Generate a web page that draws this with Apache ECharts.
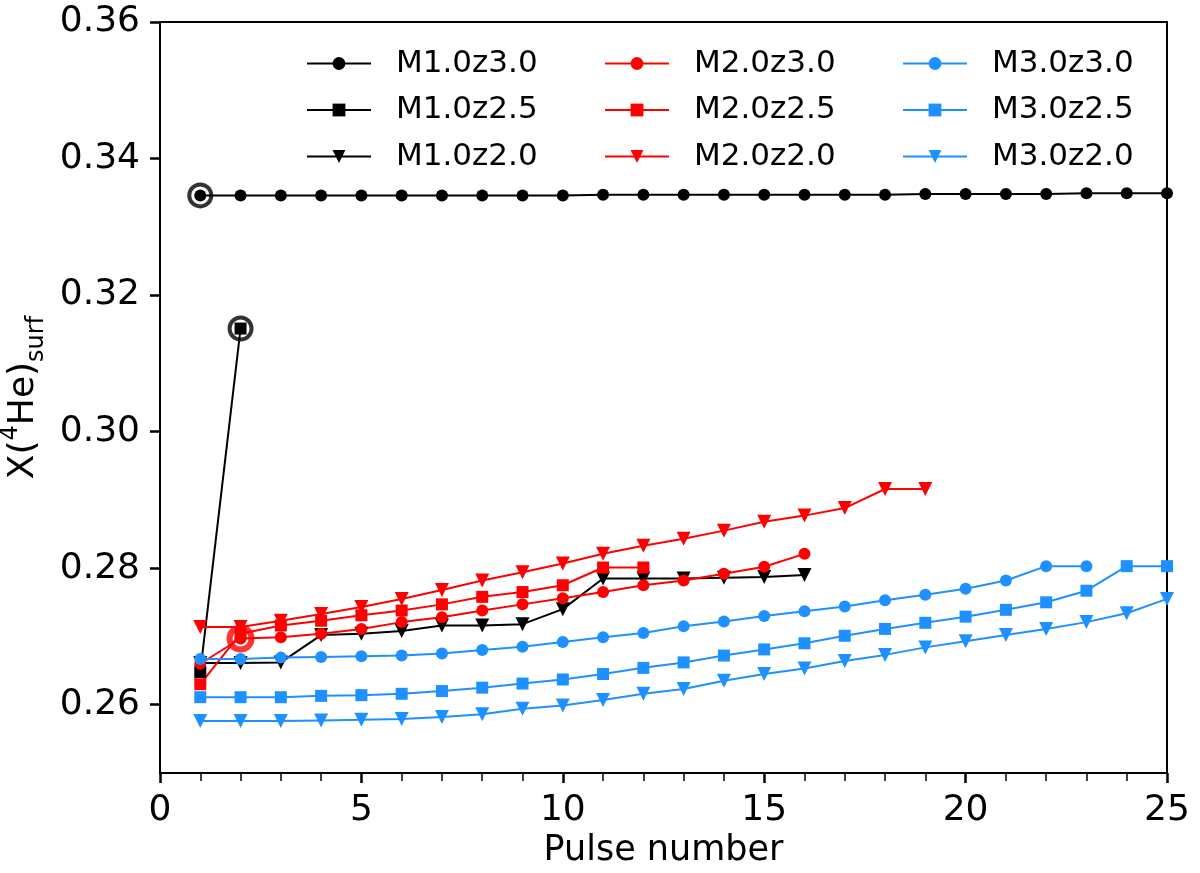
<!DOCTYPE html>
<html>
<head>
<meta charset="utf-8">
<script src="https://cdn.jsdelivr.net/npm/echarts@6/dist/echarts.min.js"></script>
<style>html,body{margin:0;padding:0;background:#fff}#c{width:1200px;height:873px}</style>
</head>
<body>
<div id="c"></div>
<script>
// Series values (index i => pulse number i+1)
const M1_0z3_0 = [0.3346,0.3346,0.3346,0.3346,0.3346,0.3346,0.3346,0.3346,0.3346,0.3346,0.3347,0.3347,0.3347,0.3347,0.3347,0.3347,0.3347,0.3347,0.3348,0.3348,0.3348,0.3348,0.3349,0.3349,0.3349];
const M1_0z2_5 = [0.2648,0.3151];
const M1_0z2_0 = [0.2661,0.2661,0.2662,0.2702,0.2704,0.2708,0.2716,0.2716,0.2718,0.2740,0.2785,0.2785,0.2785,0.2786,0.2787,0.2790];
const M2_0z3_0 = [0.2660,0.2697,0.2699,0.2704,0.2711,0.2721,0.2728,0.2738,0.2747,0.2756,0.2765,0.2775,0.2782,0.2792,0.2802,0.2821];
const M2_0z2_5 = [0.2630,0.2704,0.2716,0.2723,0.2731,0.2738,0.2747,0.2758,0.2765,0.2775,0.2801,0.2801];
const M2_0z2_0 = [0.2714,0.2714,0.2723,0.2733,0.2743,0.2755,0.2768,0.2782,0.2794,0.2807,0.2821,0.2833,0.2843,0.2855,0.2868,0.2877,0.2888,0.2916,0.2916];
const M3_0z3_0 = [0.2667,0.2667,0.2669,0.2670,0.2671,0.2672,0.2675,0.2680,0.2685,0.2692,0.2699,0.2705,0.2715,0.2722,0.2730,0.2737,0.2744,0.2753,0.2761,0.2770,0.2782,0.2803,0.2803];
const M3_0z2_5 = [0.2611,0.2611,0.2611,0.2613,0.2614,0.2616,0.2620,0.2625,0.2631,0.2637,0.2645,0.2654,0.2662,0.2672,0.2681,0.2690,0.2701,0.2711,0.2720,0.2729,0.2739,0.2750,0.2767,0.2803,0.2803];
const M3_0z2_0 = [0.2576,0.2576,0.2576,0.2577,0.2578,0.2579,0.2582,0.2586,0.2594,0.2599,0.2607,0.2616,0.2623,0.2635,0.2645,0.2653,0.2664,0.2673,0.2684,0.2693,0.2702,0.2711,0.2721,0.2734,0.2755];
// Highlighted (ringed) points: [pulse, value]
const ringsBlack = [[1,0.3346],[2,0.3151]];
const ringsRed = [[2,0.2697]];
// Tick values
const yTicks = [0.26,0.28,0.30,0.32,0.34,0.36];
const seriesNames = ['M1.0z3.0','M1.0z2.5','M1.0z2.0','M2.0z3.0','M2.0z2.5','M2.0z2.0','M3.0z3.0','M3.0z2.5','M3.0z2.0'];

const FONT = 'DejaVu Sans';
const BLACK = '#000000', RED = '#ff0000', BLUE = '#1e90ff';
const toXY = arr => arr.map((v,i)=>[i+1,v]);

function lineSeries(name, data, color, shape){
  return {
    name, type:'line', data: toXY(data),
    lineStyle:{color, width:2},
    itemStyle:{color},
    symbol: shape==='tri' ? 'triangle' : (shape==='sq' ? 'rect' : 'circle'),
    symbolSize: shape==='tri' ? 14 : 12,
    symbolRotate: shape==='tri' ? 180 : 0,
    animation:false, clip:true,
    emphasis:{disabled:true}
  };
}
function ring(data, color, size, bw){
  return {type:'scatter', data, symbol:'circle', symbolSize:size,
    itemStyle:{color:'rgba(0,0,0,0)', borderColor:color, borderWidth:bw},
    animation:false, z:5, silent:true};
}

const series = [
  lineSeries(seriesNames[0], M1_0z3_0, BLACK, 'c'),
  lineSeries(seriesNames[1], M1_0z2_5, BLACK, 'sq'),
  lineSeries(seriesNames[2], M1_0z2_0, BLACK, 'tri'),
  lineSeries(seriesNames[3], M2_0z3_0, RED, 'c'),
  lineSeries(seriesNames[4], M2_0z2_5, RED, 'sq'),
  lineSeries(seriesNames[5], M2_0z2_0, RED, 'tri'),
  lineSeries(seriesNames[6], M3_0z3_0, BLUE, 'c'),
  lineSeries(seriesNames[7], M3_0z2_5, BLUE, 'sq'),
  lineSeries(seriesNames[8], M3_0z2_0, BLUE, 'tri'),
  ring(ringsBlack, BLACK, 22, 4),
  ring(ringsRed, RED, 22, 6)
];

function legend(names, left){
  return {
    data: names, orient:'vertical', left, top:48, padding:0,
    itemWidth:64, itemHeight:16, itemGap:15.5,
    textStyle:{fontFamily:FONT, fontSize:31, color:'#000', padding:[0,0,0,20]},
    selectedMode:false
  };
}

const chart = echarts.init(document.getElementById('c'), null, {renderer:'canvas'});
chart.setOption({
  backgroundColor:'#fff',
  animation:false,
  grid:{left:160, right:33, top:22, bottom:100, show:true, borderColor:'#000', borderWidth:2,
        backgroundColor:'transparent', containLabel:false, outerBoundsMode:'none'},
  legend:[
    legend(seriesNames.slice(0,3), 306),
    legend(seriesNames.slice(3,6), 604),
    legend(seriesNames.slice(6,9), 902)
  ],
  xAxis:{
    type:'value', min:0, max:25, interval:5,
    name:'Pulse number', nameLocation:'middle', nameGap:58,
    nameTextStyle:{fontFamily:FONT, fontSize:35, color:'#000'},
    axisLine:{show:true, lineStyle:{color:'#000', width:2}},
    axisTick:{show:true, inside:false, length:10, lineStyle:{color:'#000', width:2.5}},
    minorTick:{show:true, splitNumber:5, length:8, lineStyle:{color:'#000', width:1.5}},
    axisLabel:{fontFamily:FONT, fontSize:36, color:'#000', margin:20},
    splitLine:{show:false}
  },
  yAxis:{
    type:'value', min:0.25, max:0.36,
    name:'{a|X(}{sup|4}{a|He)}{sub|surf}', nameLocation:'middle', nameRotate:90, nameGap:108,
    nameTextStyle:{fontFamily:FONT, color:'#000',
      rich:{
        a:{fontFamily:FONT, fontSize:36, color:'#000', lineHeight:50, verticalAlign:'middle'},
        sup:{fontFamily:FONT, fontSize:24, color:'#000', lineHeight:50, verticalAlign:'top'},
        sub:{fontFamily:FONT, fontSize:24, color:'#000', lineHeight:50, verticalAlign:'bottom'}
      }},
    axisLine:{show:true, lineStyle:{color:'#000', width:2}},
    axisTick:{show:true, length:10, lineStyle:{color:'#000', width:2.5}, customValues:yTicks},
    axisLabel:{fontFamily:FONT, fontSize:36, color:'#000', margin:20, customValues:yTicks,
      formatter: v => v.toFixed(2)},
    splitLine:{show:false}
  },
  series
});
</script>
</body>
</html>
